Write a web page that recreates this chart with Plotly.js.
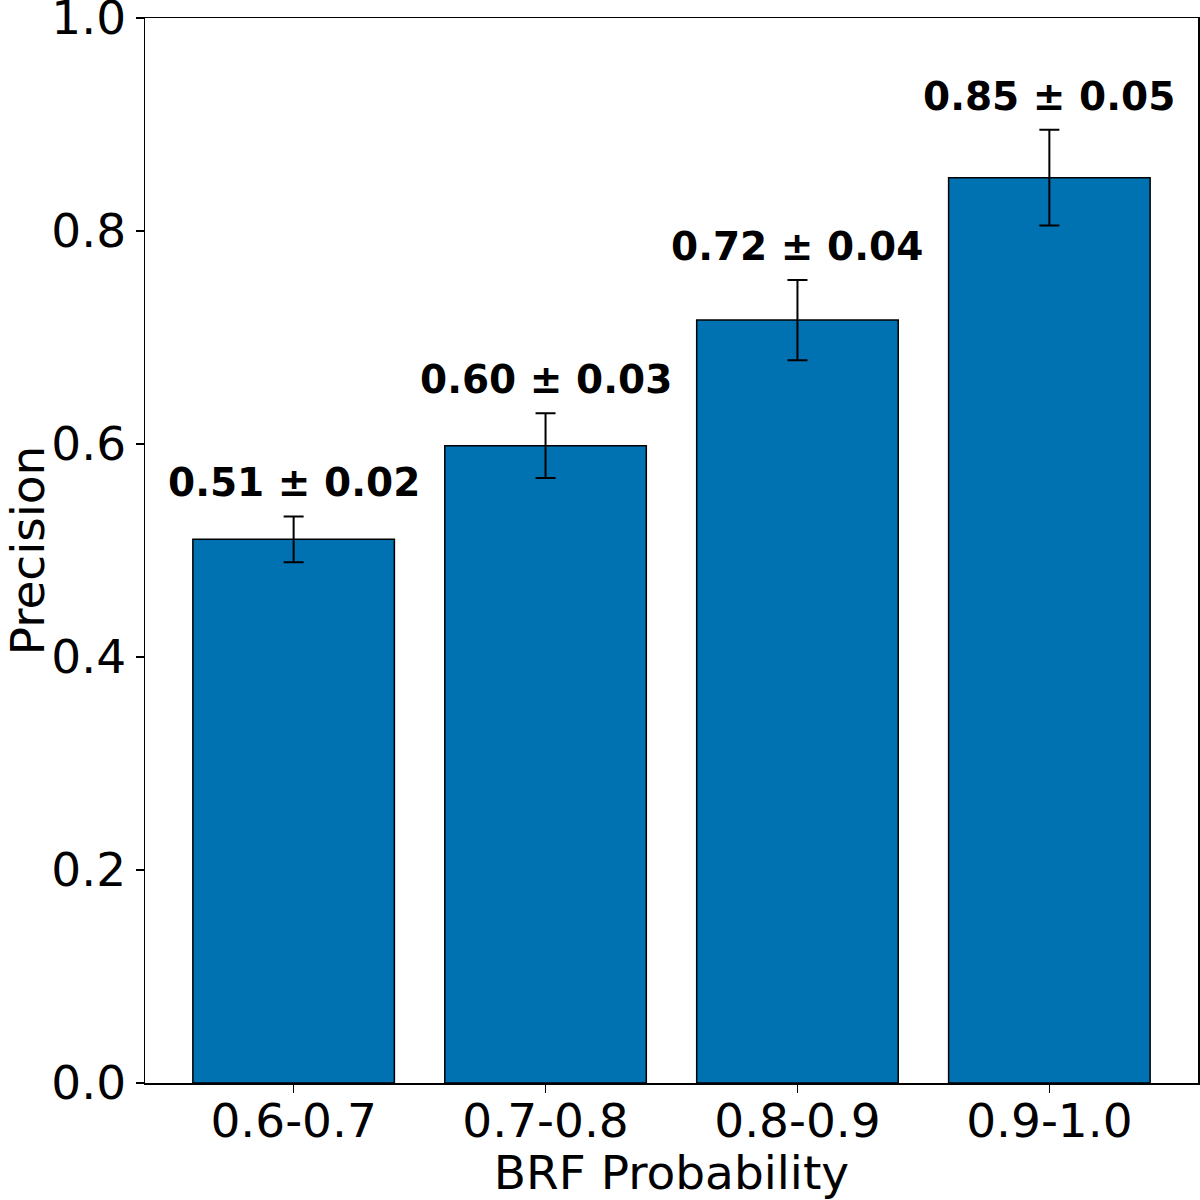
<!DOCTYPE html>
<html>
<head>
<meta charset="utf-8">
<script src="https://cdn.plot.ly/plotly-3.0.1.min.js"></script>
<style>html,body{margin:0;padding:0;background:#fff;}#chart{width:1200px;height:1200px;}</style>
</head>
<body>
<div id="chart"></div>
<script>
const categories = ['0.6-0.7', '0.7-0.8', '0.8-0.9', '0.9-1.0'];
const precision = [0.5105, 0.5984, 0.7164, 0.8501];
const precisionErr = [0.0215, 0.0304, 0.0377, 0.0449];
const labels = ['0.51 ± 0.02', '0.60 ± 0.03', '0.72 ± 0.04', '0.85 ± 0.05'];
const yTicks = [0, 0.2, 0.4, 0.6, 0.8, 1.0];

const FONT = 'DejaVu Sans, sans-serif';

const trace = {
  type: 'bar',
  x: categories,
  y: precision,
  width: 0.8,
  marker: {color: '#0072B2', line: {color: '#000', width: 1.5}},
  error_y: {type: 'data', array: precisionErr, visible: true, color: '#000', thickness: 2, width: 10},
  hoverinfo: 'none'
};

const annotations = categories.map((c, i) => ({
  x: c, y: precision[i] + precisionErr[i] + 0.02,
  xref: 'x', yref: 'y',
  text: '<b>' + labels[i] + '</b>',
  showarrow: false,
  xanchor: 'center', yanchor: 'bottom',
  yshift: -12,
  font: {family: FONT, size: 39, color: '#000'}
}));

const layout = {
  width: 1200, height: 1200,
  paper_bgcolor: '#fff', plot_bgcolor: '#fff',
  margin: {l: 145, r: 2, t: 18, b: 117},
  showlegend: false,
  font: {family: FONT, color: '#000'},
  xaxis: {
    type: 'category',
    range: [-0.59, 3.59],
    showline: true, mirror: true, linecolor: '#000', linewidth: 1.5,
    ticks: 'outside', ticklen: 8, tickwidth: 1.5, tickcolor: '#000',
    ticklabelstandoff: -12,
    showgrid: false, zeroline: false,
    tickfont: {family: FONT, size: 47, color: '#000'},
    title: {text: 'BRF Probability', font: {family: FONT, size: 47, color: '#000'}, standoff: 4}
  },
  yaxis: {
    range: [0, 1.00001],
    tickvals: yTicks,
    tickformat: '.1f',
    ticklabeloverflow: 'allow',
    showline: true, mirror: true, linecolor: '#000', linewidth: 1.5,
    ticks: 'outside', ticklen: 8, tickwidth: 1.5, tickcolor: '#000',
    showgrid: false, zeroline: false,
    tickfont: {family: FONT, size: 47, color: '#000'},
    title: {text: 'Precision', font: {family: FONT, size: 47, color: '#000'}, standoff: 12}
  },
  annotations: annotations
};

Plotly.newPlot('chart', [trace], layout, {displayModeBar: false, staticPlot: true});
</script>
</body>
</html>
